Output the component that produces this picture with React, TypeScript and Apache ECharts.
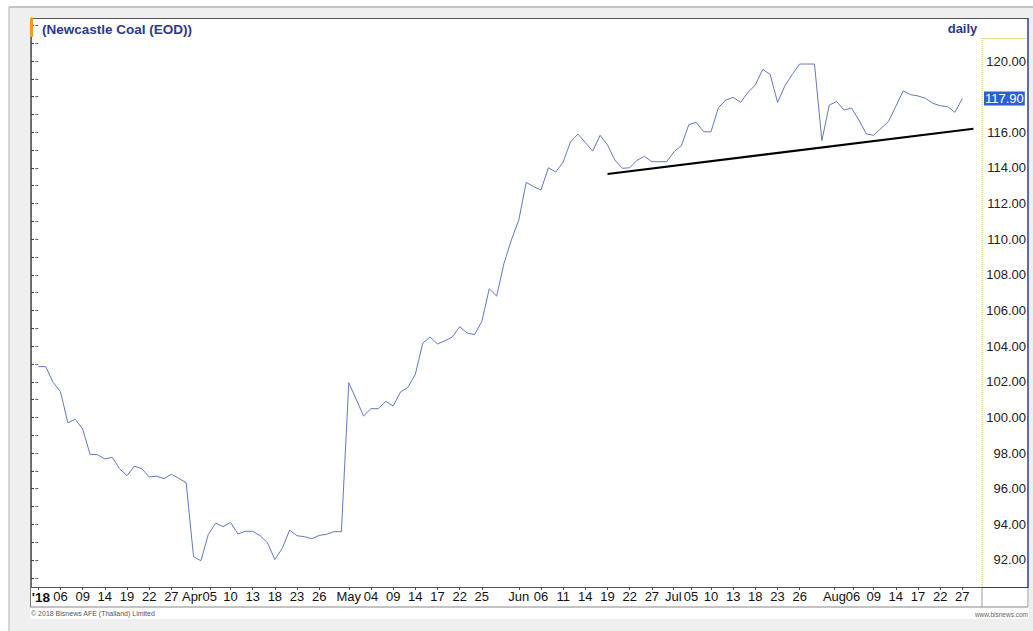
import React, { useEffect, useRef } from "react";
import * as echarts from "echarts";

// Newcastle Coal (EOD), daily closes, trading-day index 0..125 (Mar 1 2018 .. Aug 27 2018)
const closes: number[] = [
  102.85, 102.85, 101.97, 101.44, 99.7, 99.89, 99.35, 97.93, 97.91, 97.67,
  97.76, 97.12, 96.73, 97.27, 97.12, 96.66, 96.7, 96.56, 96.81, 96.58,
  96.34, 92.18, 91.96, 93.44, 94.07, 93.87, 94.11, 93.46, 93.61, 93.61,
  93.36, 92.97, 92.02, 92.65, 93.68, 93.36, 93.31, 93.19, 93.38, 93.44,
  93.59, 93.59, 101.95, 101.02, 100.08, 100.49, 100.49, 100.9, 100.64, 101.43,
  101.69, 102.42, 104.16, 104.51, 104.12, 104.3, 104.51, 105.09, 104.74, 104.64,
  105.39, 107.22, 106.81, 108.65, 109.96, 111.08, 113.19, 112.95, 112.76, 114.01,
  113.77, 114.33, 115.47, 115.9, 115.42, 114.95, 115.83, 115.29, 114.44, 113.98,
  114.01, 114.43, 114.65, 114.35, 114.35, 114.35, 114.91, 115.25, 116.43, 116.56,
  116.03, 116.03, 117.38, 117.81, 117.96, 117.68, 118.24, 118.65, 119.53, 119.25,
  117.68, 118.61, 119.25, 119.83, 119.83, 119.83, 115.53, 117.53, 117.72, 117.25,
  117.36, 116.69, 115.92, 115.83, 116.22, 116.6, 117.46, 118.32, 118.11, 118.04,
  117.91, 117.63, 117.49, 117.44, 117.12, 117.9,
];

// x tick labels (position on the trading-day index -> text)
const tickIndex: number[] = [
  0, 3, 6, 9, 12, 15, 18, 20.8, 23.2, 26, 29, 32, 35, 38, 42, 45, 48, 51, 54, 57, 60,
  65, 68, 71, 74, 77, 80, 83, 85.9, 88.3, 91, 94, 97, 100, 103, 107.7, 110.2, 113, 116, 119, 122, 125,
];
const tickText: string[] = [
  "'18", "06", "09", "14", "19", "22", "27", "Apr", "05", "10", "13", "18", "23", "26",
  "May", "04", "09", "14", "17", "22", "25", "Jun", "06", "11", "14", "19", "22", "27",
  "Jul", "05", "10", "13", "18", "23", "26", "Aug", "06", "09", "14", "17", "22", "27",
];

// y axis labels (118.00 is covered by the last-price box in the source)
const yLabelValues: number[] = [92, 94, 96, 98, 100, 102, 104, 106, 108, 110, 112, 114, 116, 120];
const yTickValues: number[] = [
  91, 92, 93, 94, 95, 96, 97, 98, 99, 100, 101, 102, 103, 104, 105, 106, 107, 108,
  109, 110, 111, 112, 113, 114, 115, 116, 117, 118, 119, 120, 121, 122,
];

// hand-drawn support trend line: [index, value]
const trendLine: number[][] = [
  [77, 113.66],
  [126.5, 116.2],
];

const lastClose = 117.9;

const FONT = '"Liberation Sans", Arial, Helvetica, sans-serif';
const NAVY = "#2b3a8c";

export default function App() {
  const ref = useRef<HTMLDivElement>(null);

  useEffect(() => {
    if (!ref.current) return;
    const chart = echarts.init(ref.current, undefined, { renderer: "svg" });

    const yMin = 90.484;
    const yMax = 122.413;

    const option: any = {
      animation: false,
      backgroundColor: "#ffffff",
      textStyle: { fontFamily: FONT },
      grid: { left: 31, right: 51, top: 18, bottom: 44, containLabel: false },
      xAxis: [
        {
          type: "value",
          min: -0.99,
          max: 127.66,
          position: "bottom",
          axisLine: { show: true, lineStyle: { color: "#555", width: 1 } },
          axisTick: {
            show: true,
            customValues: tickIndex,
            length: 3,
            lineStyle: { color: "#555" },
          },
          axisLabel: {
            customValues: tickIndex,
            margin: 3,
            fontSize: 13,
            color: "#111",
            fontFamily: FONT,
            formatter: (v: number) => {
              const k = tickIndex.indexOf(v);
              if (k < 0) return "";
              return k === 0 ? `{b|${tickText[k]}}` : tickText[k];
            },
            rich: {
              b: {
                fontWeight: "bold",
                fontSize: 13.5,
                fontFamily: FONT,
                color: "#111",
                padding: [0, 0, 0, 5],
              },
            },
          },
          splitLine: { show: false },
        },
      ],
      yAxis: [
        {
          type: "value",
          position: "right",
          min: yMin,
          max: yMax,
          axisLine: { show: false },
          axisTick: {
            show: true,
            inside: true,
            customValues: yTickValues,
            length: 3,
            lineStyle: { color: "#666" },
          },
          axisLabel: {
            customValues: yLabelValues,
            align: "right",
            margin: 44,
            fontSize: 13,
            color: "#222",
            fontFamily: FONT,
            formatter: (v: number) => v.toFixed(2),
          },
          splitLine: { show: false },
        },
        {
          type: "value",
          position: "left",
          min: yMin,
          max: yMax,
          axisLine: { show: true, lineStyle: { color: "#666" } },
          axisTick: {
            show: true,
            inside: true,
            customValues: yTickValues,
            length: 3,
            lineStyle: { color: "#444" },
          },
          axisLabel: { show: false },
          splitLine: { show: false },
        },
      ],
      series: [
        {
          type: "line",
          xAxisIndex: 0,
          yAxisIndex: 0,
          data: closes.map((v, i) => [i, v]),
          showSymbol: false,
          symbol: "none",
          lineStyle: { color: "#6679bd", width: 1 },
          silent: true,
          z: 3,
          markLine: {
            silent: true,
            symbol: ["none", "none"],
            lineStyle: { width: 0, color: "#2b5fd9", type: "solid" },
            emphasis: { disabled: true },
            label: {
              show: true,
              position: "end",
              distance: 2,
              formatter: lastClose.toFixed(2),
              color: "#ffffff",
              backgroundColor: "#2b5fd9",
              fontSize: 13,
              fontFamily: FONT,
              padding: [1, 1, 0, 1],
            },
            data: [{ yAxis: lastClose }],
          },
        },
        {
          type: "line",
          xAxisIndex: 0,
          yAxisIndex: 0,
          data: trendLine,
          showSymbol: false,
          symbol: "none",
          clip: false,
          lineStyle: { color: "#000000", width: 2 },
          silent: true,
          z: 4,
        },
      ],
      graphic: [
        // outer grey frame
        { type: "rect", z: -20, shape: { x: 9, y: 7, width: 1024, height: 624 }, style: { fill: "#efefef" } },
        { type: "line", z: -19, shape: { x1: 9, y1: 7, x2: 1033, y2: 7 }, style: { stroke: "#c2c2c2", lineWidth: 2 } },
        { type: "line", z: -19, shape: { x1: 9, y1: 7, x2: 9, y2: 631 }, style: { stroke: "#c8c8c8", lineWidth: 1.5 } },
        // white panel
        { type: "rect", z: -18, shape: { x: 30, y: 18, width: 999, height: 601 }, style: { fill: "#ffffff" } },
        // top border
        { type: "line", z: 10, shape: { x1: 30, y1: 18.5, x2: 1028, y2: 18.5 }, style: { stroke: "#555", lineWidth: 1 } },
        // left border down through the date strip
        { type: "line", z: 10, shape: { x1: 30.5, y1: 18, x2: 30.5, y2: 607 }, style: { stroke: "#777", lineWidth: 1 } },
        // orange marker
        { type: "rect", z: 11, shape: { x: 30, y: 18, width: 3, height: 19 }, style: { fill: "#f39a1e" } },
        // price axis box
        { type: "line", z: 10, shape: { x1: 982, y1: 38.5, x2: 1028, y2: 38.5 }, style: { stroke: "#f2dc98", lineWidth: 1 } },
        { type: "line", z: 10, shape: { x1: 982, y1: 38, x2: 982, y2: 587 }, style: { stroke: "#dcbc50", lineWidth: 1, lineDash: [1, 1] } },
        { type: "line", z: 10, shape: { x1: 1028, y1: 18, x2: 1028, y2: 588 }, style: { stroke: NAVY, lineWidth: 1.5 } },
        { type: "line", z: 10, shape: { x1: 982, y1: 587.5, x2: 1028, y2: 587.5 }, style: { stroke: NAVY, lineWidth: 1 } },
        // date strip
        { type: "line", z: 10, shape: { x1: 30, y1: 607, x2: 1028, y2: 607 }, style: { stroke: "#888", lineWidth: 1 } },
        { type: "line", z: 10, shape: { x1: 982, y1: 588, x2: 982, y2: 607 }, style: { stroke: "#999", lineWidth: 1 } },
        { type: "line", z: 10, shape: { x1: 1028, y1: 588, x2: 1028, y2: 607 }, style: { stroke: "#999", lineWidth: 1 } },
        // title texts
        {
          type: "text",
          z: 12,
          style: {
            x: 42,
            y: 29,
            text: "(Newcastle Coal (EOD))",
            fill: NAVY,
            font: `bold 13.5px ${FONT}`,
            textVerticalAlign: "middle",
            verticalAlign: "middle",
          },
        },
        {
          type: "text",
          z: 12,
          style: {
            x: 962.5,
            y: 28.5,
            text: "daily",
            fill: NAVY,
            font: `bold 13px ${FONT}`,
            textAlign: "center",
            align: "center",
            textVerticalAlign: "middle",
            verticalAlign: "middle",
          },
        },
        // footer texts
        {
          type: "text",
          z: 12,
          style: {
            x: 31,
            y: 613.5,
            text: "© 2018 Bisnews AFE (Thailand) Limited",
            fill: "#555",
            font: `7px ${FONT}`,
            textVerticalAlign: "middle",
            verticalAlign: "middle",
          },
        },
        {
          type: "text",
          z: 12,
          style: {
            x: 1028,
            y: 614.5,
            text: "www.bisnews.com",
            fill: "#666",
            font: `6.5px ${FONT}`,
            textAlign: "right",
            align: "right",
            textVerticalAlign: "middle",
            verticalAlign: "middle",
          },
        },
      ],
    };

    chart.setOption(option);
    return () => {
      chart.dispose();
    };
  }, []);

  return (
    <div
      ref={ref}
      style={{ position: "absolute", left: 0, top: 0, width: 1033, height: 631 }}
    />
  );
}
